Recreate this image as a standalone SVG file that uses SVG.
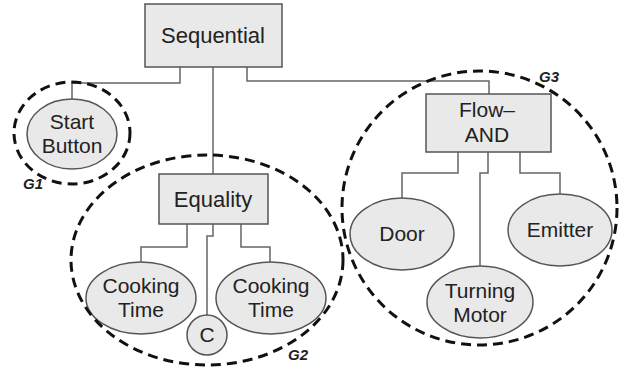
<svg xmlns="http://www.w3.org/2000/svg" width="623" height="369" viewBox="0 0 623 369">
<style>
.box{fill:#e9e9e9;stroke:#555;stroke-width:1.5}
.ell{fill:#e9e9e9;stroke:#555;stroke-width:1.5}
.conn{fill:none;stroke:#666;stroke-width:1.5}
.grp{fill:none;stroke:#111;stroke-width:3;stroke-dasharray:10 6}
text{font-family:"Liberation Sans",Arial,sans-serif;font-size:21px;fill:#222;text-anchor:middle}
.big{font-size:22px}
.gl{font-size:15px;font-weight:bold;font-style:italic;text-anchor:start}
</style>
<rect width="623" height="369" fill="#fff"/>
<g id="connectors">
<path class="conn" d="M180 67 V83 H72 V99"/>
<path class="conn" d="M213 67 V174"/>
<path class="conn" d="M247 67 V81 H489 V94"/>
<path class="conn" d="M187 224 V247 H141 V262"/>
<path class="conn" d="M213 224 V236 H207 V315"/>
<path class="conn" d="M241 224 V247 H270 V262"/>
<path class="conn" d="M458 152 V173 H402 V198"/>
<path class="conn" d="M488 152 V173 H480 V267"/>
<path class="conn" d="M520 152 V173 H560 V194"/>
</g>
<g id="sequential"><rect class="box" x="145" y="4" width="137" height="63"/><text class="big" x="213" y="43">Sequential</text></g>
<g id="start-button"><ellipse class="ell" cx="72" cy="134" rx="45" ry="35"/><text x="72" y="129">Start</text><text x="72" y="153">Button</text></g>
<g id="equality"><rect class="box" x="159" y="174" width="109" height="50"/><text class="big" x="213" y="207">Equality</text></g>
<g id="cooking-time-1"><ellipse class="ell" cx="141" cy="298" rx="55" ry="36"/><text x="141" y="293">Cooking</text><text x="141" y="317">Time</text></g>
<g id="cooking-time-2"><ellipse class="ell" cx="271" cy="298" rx="55" ry="36"/><text x="271" y="293">Cooking</text><text x="271" y="317">Time</text></g>
<g id="c"><circle class="ell" cx="207" cy="335" r="20"/><text x="207" y="342">C</text></g>
<g id="flow-and"><rect class="box" x="426" y="94" width="125" height="58"/><text x="487" y="117">Flow–</text><text x="487" y="142">AND</text></g>
<g id="door"><ellipse class="ell" cx="402" cy="234" rx="52" ry="36"/><text x="402" y="241">Door</text></g>
<g id="emitter"><ellipse class="ell" cx="560" cy="230" rx="52" ry="36"/><text x="560" y="237">Emitter</text></g>
<g id="turning-motor"><ellipse class="ell" cx="480" cy="302" rx="53" ry="36"/><text x="480" y="298">Turning</text><text x="480" y="322">Motor</text></g>
<g id="g1"><ellipse class="grp" cx="72" cy="133" rx="58" ry="51"/><text class="gl" x="23" y="189">G1</text></g>
<g id="g2"><ellipse class="grp" cx="207" cy="260" rx="136" ry="105"/><text class="gl" x="288" y="360">G2</text></g>
<g id="g3"><ellipse class="grp" cx="479.5" cy="208" rx="137.5" ry="137"/><text class="gl" x="539" y="82">G3</text></g>
</svg>
